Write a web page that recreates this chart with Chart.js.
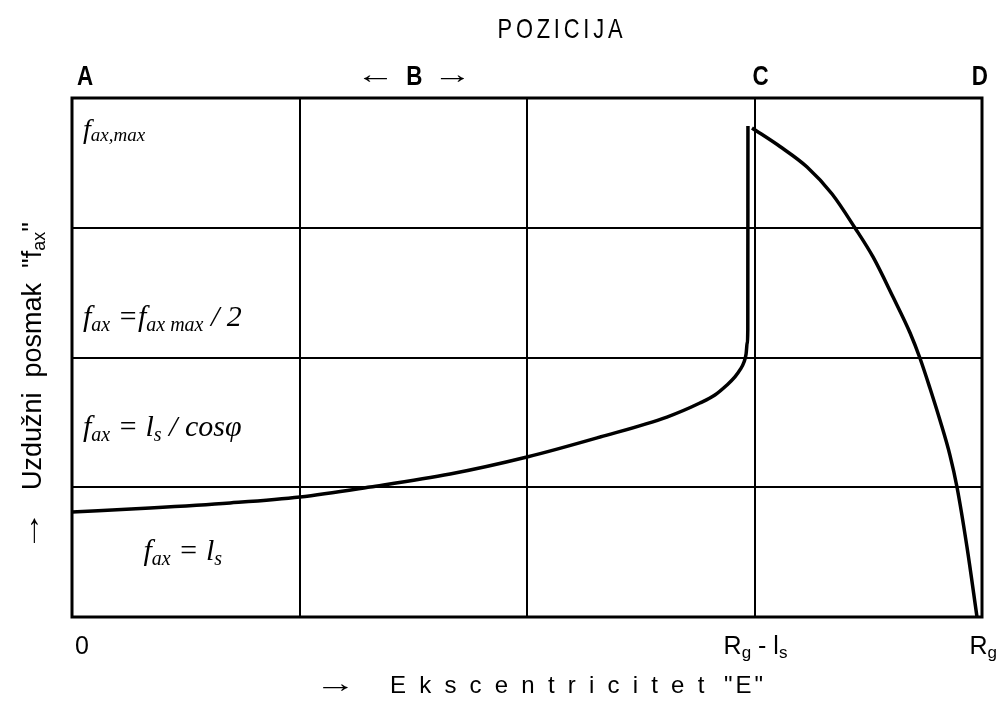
<!DOCTYPE html>
<html>
<head>
<meta charset="utf-8">
<script src="https://cdn.jsdelivr.net/npm/chart.js@4/dist/chart.umd.min.js"></script>
<style>
html,body{margin:0;padding:0;background:#fff;}
#wrap{width:999px;height:702px;position:relative;}
</style>
</head>
<body>
<div id="wrap"><canvas id="c" width="999" height="702"></canvas></div>
<script>
// Rising branch (positions A -> C)
const riseX = [0, 0.343, 0.695, 1.002, 1.310, 1.662, 2.0, 2.321, 2.615, 2.760, 2.826, 2.879, 2.914, 2.936, 2.954, 2.963, 2.968, 2.9705, 2.9712];
const riseY = [0.809, 0.840, 0.879, 0.925, 1.002, 1.102, 1.233, 1.387, 1.541, 1.649, 1.711, 1.788, 1.850, 1.904, 1.965, 2.027, 2.112, 2.212, 3.784];
// Falling branch (positions C -> D)
const fallX = [2.989, 3.112, 3.231, 3.341, 3.442, 3.521, 3.609, 3.684, 3.727, 3.771, 3.815, 3.859, 3.890, 3.934, 3.978];
const fallY = [3.769, 3.626, 3.468, 3.260, 2.998, 2.775, 2.466, 2.189, 1.996, 1.765, 1.518, 1.248, 1.002, 0.539, 0.0];
// Position labels on top
const posLabels = ['A', 'B', 'C', 'D'];
const posValues = [0, 1.5, 3, 4];
// x tick labels
const tickValues = [0, 3, 4];

const SANS = '"Liberation Sans", Arial, sans-serif';
const SERIF = '"Liberation Serif", "Times New Roman", serif';

function pts(xs, ys){ return xs.map((x,i)=>({x:x, y:ys[i]})); }

function rich(ctx, x, y, parts, align){
  let w = 0;
  parts.forEach(p=>{ ctx.font = p.f; w += ctx.measureText(p.t).width + (p.gap||0); });
  let cx = align === 'center' ? x - w/2 : (align === 'right' ? x - w : x);
  ctx.textAlign = 'left';
  ctx.textBaseline = 'alphabetic';
  parts.forEach(p=>{ ctx.font = p.f; ctx.fillText(p.t, cx, y + (p.dy||0)); cx += ctx.measureText(p.t).width + (p.gap||0); });
  return cx;
}

// draws characters one by one with extra spacing and horizontal scale
function spaced(ctx, text, x, y, font, spacing, sx, align){
  ctx.font = font;
  const chars = Array.from(text);
  const ws = chars.map(c=>ctx.measureText(c).width * sx);
  const total = ws.reduce((a,b)=>a+b,0) + spacing*(chars.length-1);
  let cx = align === 'center' ? x - total/2 : (align === 'right' ? x - total : x);
  ctx.textAlign = 'left';
  ctx.textBaseline = 'alphabetic';
  chars.forEach((c,i)=>{
    ctx.save(); ctx.translate(cx, y); ctx.scale(sx, 1); ctx.fillText(c, 0, 0); ctx.restore();
    cx += ws[i] + spacing;
  });
  return cx;
}

const textPlugin = {
  id: 'texts',
  afterDraw(chart){
    const ctx = chart.ctx;
    const xs = chart.scales.x;
    const ca = chart.chartArea;
    ctx.save();
    ctx.fillStyle = '#000';
    ctx.strokeStyle = '#000';
    ctx.lineWidth = 3;
    ctx.strokeRect(ca.left, ca.top, ca.right - ca.left, ca.bottom - ca.top);

    // title
    spaced(ctx, 'POZICIJA', 560, 38, '28px ' + SANS, 3.8, 0.78, 'center');

    // position labels
    const bf = 'bold 28px ' + SANS;
    const af = '26px ' + SANS;
    spaced(ctx, posLabels[0], xs.getPixelForValue(posValues[0]) + 5, 85, bf, 0, 0.8, 'left');
    const bx = xs.getPixelForValue(posValues[1]) + 1;
    spaced(ctx, posLabels[1], bx, 85, bf, 0, 0.8, 'center');
    spaced(ctx, '\u2190', bx - 19, 83, af, 0, 1.5, 'right');
    spaced(ctx, '\u2192', bx + 19, 83, af, 0, 1.5, 'left');
    spaced(ctx, posLabels[2], xs.getPixelForValue(posValues[2]) - 2, 85, bf, 0, 0.8, 'left');
    spaced(ctx, posLabels[3], xs.getPixelForValue(posValues[3]) + 6, 85, bf, 0, 0.8, 'right');

    // annotations in cells
    const it = 'italic 28px ' + SERIF;
    const sb = 'italic 19px ' + SERIF;
    const it2 = 'italic 30px ' + SERIF;
    const sb2 = 'italic 20px ' + SERIF;
    const L = ca.left + 11;
    rich(ctx, L, 138, [{t:'f', f:it},{t:'ax,max', f:sb, dy:3}], 'left');
    rich(ctx, L, 326, [{t:'f', f:it2},{t:'ax', f:sb2, dy:5},{t:' =', f:it2},{t:'f', f:it2},{t:'ax max', f:sb2, dy:5},{t:' / 2', f:it2}], 'left');
    rich(ctx, L, 436, [{t:'f', f:it2},{t:'ax', f:sb2, dy:5},{t:' = ', f:it2},{t:'l', f:it2},{t:'s', f:sb2, dy:5},{t:' / cos', f:it2},{t:'\u03c6', f:it2}], 'left');
    rich(ctx, xs.getPixelForValue(0.5) - 3, 560, [{t:'f', f:it2},{t:'ax', f:sb2, dy:5},{t:' = ', f:it2},{t:'l', f:it2},{t:'s', f:sb2, dy:5}], 'center');

    // x tick labels
    const tf = '25px ' + SANS, ts = '17px ' + SANS;
    rich(ctx, xs.getPixelForValue(tickValues[0]) + 3, 654, [{t:'0', f:tf}], 'left');
    rich(ctx, xs.getPixelForValue(tickValues[1]) + 1, 654, [{t:'R', f:tf},{t:'g', f:ts, dy:4},{t:' - l', f:tf},{t:'s', f:ts, dy:4}], 'center');
    rich(ctx, xs.getPixelForValue(tickValues[2]) + 15, 654, [{t:'R', f:tf},{t:'g', f:ts, dy:4}], 'right');

    // x axis title
    spaced(ctx, '\u2192', 315, 692, af, 0, 1.6, 'left');
    spaced(ctx, 'Ekscentricitet', 390, 693, '24px ' + SANS, 13.2, 1, 'left');
    spaced(ctx, '"E"', 724, 693, '24px ' + SANS, 3, 1, 'left');

    // y axis title (rotated)
    ctx.save();
    ctx.translate(41, 0);
    ctx.rotate(-Math.PI/2);
    spaced(ctx, '\u2192', -552, -2, '28px ' + SANS, 0, 1.5, 'left');
    rich(ctx, -490, 0, [{t:'Uzdu\u017eni  posmak  "f', f:'27px ' + SANS},{t:'ax', f:'18px ' + SANS, dy:4},{t:'"', f:'27px ' + SANS}], 'left');
    ctx.restore();
    ctx.restore();
  }
};

new Chart(document.getElementById('c'), {
  type: 'scatter',
  data: {
    datasets: [
      {data: pts(riseX, riseY), showLine: true, borderColor: '#000', borderWidth: 3.5, pointRadius: 0, cubicInterpolationMode: 'monotone', fill: false},
      {data: pts(fallX, fallY), showLine: true, borderColor: '#000', borderWidth: 3.5, pointRadius: 0, cubicInterpolationMode: 'monotone', fill: false}
    ]
  },
  options: {
    responsive: false,
    animation: false,
    devicePixelRatio: 1,
    layout: {padding: {left: 72, top: 98, right: 17, bottom: 85}},
    plugins: {legend: {display: false}, tooltip: {enabled: false}, title: {display: false}},
    scales: {
      x: {type: 'linear', min: 0, max: 4, ticks: {display: false, stepSize: 1}, grid: {color: '#000', lineWidth: 2, drawTicks: false}, border: {display: true, color: '#000', width: 2}},
      y: {type: 'linear', min: 0, max: 4, ticks: {display: false, stepSize: 1}, grid: {color: '#000', lineWidth: 2, drawTicks: false}, border: {display: true, color: '#000', width: 2}}
    }
  },
  plugins: [textPlugin]
});
</script>
</body>
</html>
